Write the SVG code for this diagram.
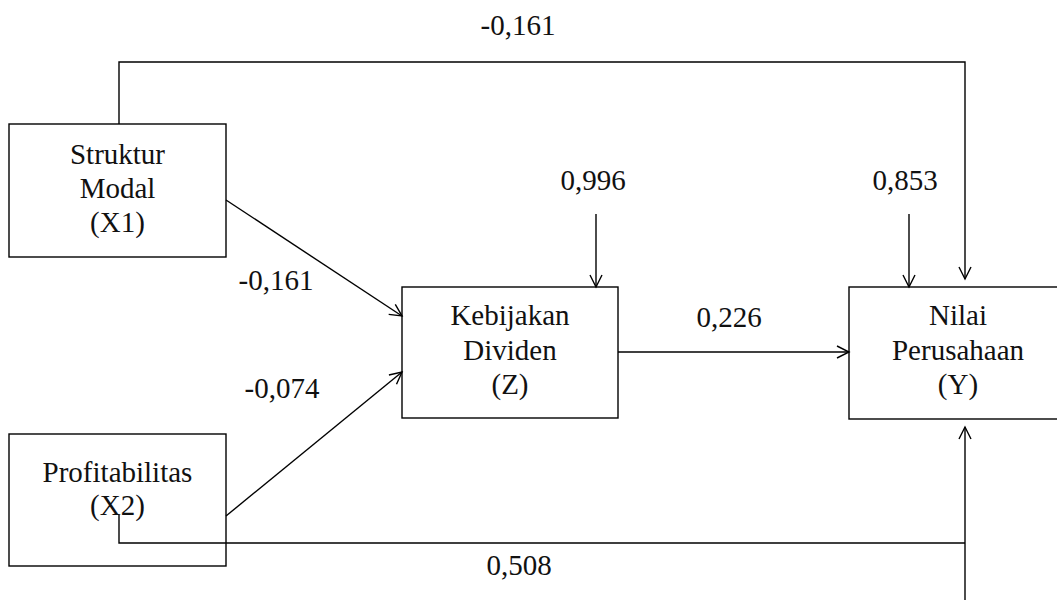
<svg xmlns="http://www.w3.org/2000/svg" width="1057" height="600" viewBox="0 0 1057 600">
<style>
.box{fill:none;stroke:#000;stroke-width:1.4}
.t{font-family:"Liberation Serif","DejaVu Serif",serif;font-size:29px;fill:#111;text-anchor:middle}
.c{fill:none;stroke:#000;stroke-width:1.4}
.a{marker-end:url(#arr)}
</style>
<defs>
<marker id="arr" markerUnits="userSpaceOnUse" markerWidth="16" markerHeight="16" refX="13" refY="7" orient="auto">
<path d="M1,1 L13,7 L1,13" fill="none" stroke="#000" stroke-width="1.4"/>
</marker>
</defs>
<rect width="1057" height="600" fill="#fff"/>
<g id="x1">
<rect class="box" x="9" y="124" width="217" height="133"/>
<text class="t" x="117.5" y="164">Struktur</text>
<text class="t" x="117.5" y="198">Modal</text>
<text class="t" x="117.5" y="232">(X1)</text>
</g>
<g id="x2">
<rect class="box" x="9" y="434" width="217" height="132"/>
<text class="t" x="117.5" y="482">Profitabilitas</text>
<text class="t" x="117.5" y="515">(X2)</text>
</g>
<g id="z">
<rect class="box" x="402" y="287" width="216" height="131"/>
<text class="t" x="510" y="325">Kebijakan</text>
<text class="t" x="510" y="360">Dividen</text>
<text class="t" x="510" y="394">(Z)</text>
</g>
<g id="y">
<rect class="box" x="849" y="287" width="218" height="132"/>
<text class="t" x="958" y="325">Nilai</text>
<text class="t" x="958" y="360">Perusahaan</text>
<text class="t" x="958" y="394">(Y)</text>
</g>
<g id="connectors">
<path class="c a" d="M119,124 V62 H965 V279"/>
<path class="c a" d="M226,200 L402,316"/>
<path class="c a" d="M226,516 L402,372"/>
<path class="c a" d="M618,352 H849"/>
<path class="c a" d="M596,214 V287"/>
<path class="c a" d="M909,214 V287"/>
<path class="c" d="M119,515 V543 H965"/>
<path class="c a" d="M965,600 V427"/>
</g>
<g id="labels">
<text class="t" x="518" y="35">-0,161</text>
<text class="t" x="276" y="290">-0,161</text>
<text class="t" x="282" y="398">-0,074</text>
<text class="t" x="593" y="190">0,996</text>
<text class="t" x="905" y="190">0,853</text>
<text class="t" x="729" y="327">0,226</text>
<text class="t" x="519" y="575">0,508</text>
</g>
</svg>
